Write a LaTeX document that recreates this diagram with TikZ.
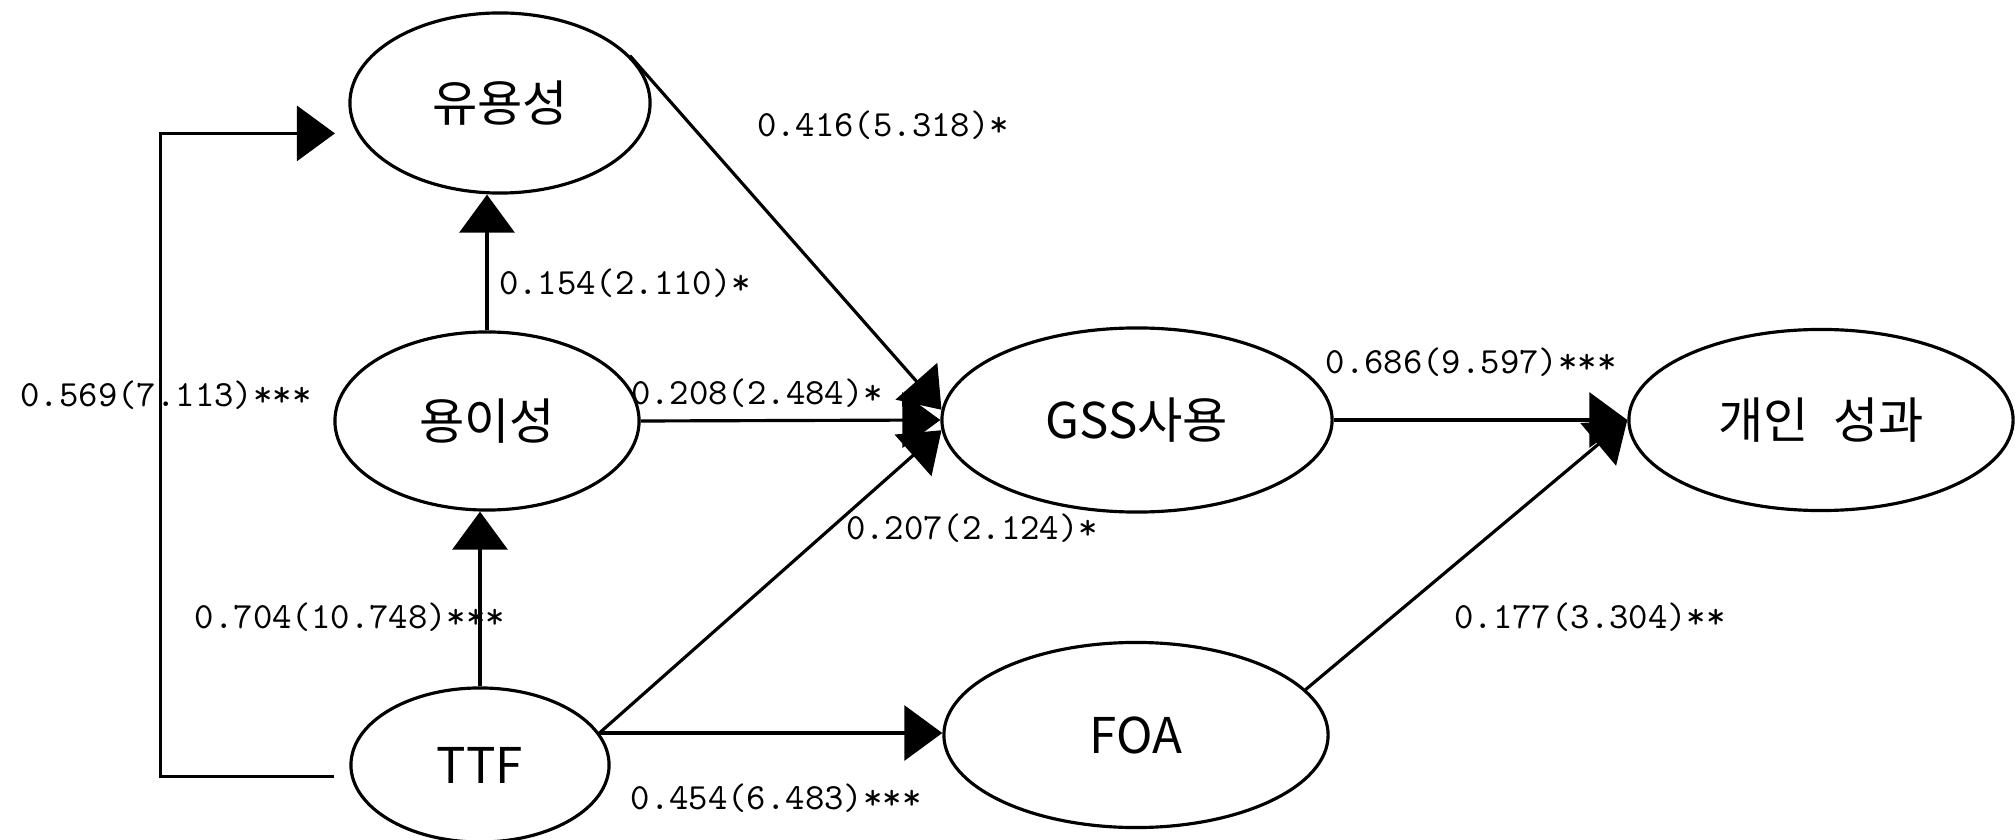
\documentclass[tikz,border=0pt]{standalone}
\usepackage{fontspec}
\usepackage{tikz}
\usetikzlibrary{arrows.meta,shapes.geometric}
\newfontfamily\krfont{Noto Sans CJK KR}

\begin{document}
\begin{tikzpicture}[x=0.01cm, y=-0.01cm,
  latent/.style={ellipse, draw, line width=0.9pt, inner sep=0pt,
                 font=\krfont\fontsize{14}{16}\selectfont},
  coef/.style={inner sep=0pt, font=\ttfamily\fontsize{10.5}{12}\selectfont},
  arr/.style={-{Triangle[length=0.38cm, width=0.55cm]}, line width=0.9pt}
]
\useasboundingbox (0,0) rectangle (2015,840);

% ── Constructs ─────────────
\node[latent, minimum width=3.0cm, minimum height=1.8cm] (usef) at (500,103) {유용성};
\node[latent, minimum width=3.04cm, minimum height=1.78cm] (ease) at (487,421) {용이성};
\node[latent, minimum width=2.58cm, minimum height=1.54cm] (ttf) at (480,765) {TTF};
\node[latent, minimum width=3.9cm, minimum height=1.84cm] (gss) at (1137,420) {GSS사용};
\node[latent, minimum width=3.84cm, minimum height=1.85cm] (foa) at (1136,735) {FOA};
\node[latent, minimum width=3.84cm, minimum height=1.81cm] (perf) at (1821,420) {개인\hspace{0.5em}성과};

% ── Paths ─────────────
\draw[arr, shorten <=0.17cm, shorten >=0.22cm] (ttf.185) -- ++(-190,0) |- (usef.192);
\draw[arr] (ease.north) -- (ease.north |- usef.south);
\draw[arr] (ttf.north) -- (ttf.north |- ease.south);
\draw[arr] (usef.20) -- (gss.177);
\draw[arr] (ease.east) -- (gss.west);
\draw[arr] (ttf.15) -- (gss.183);
\draw[arr] (ttf.15) -- (ttf.15 -| foa.west);
\draw[arr] (gss.east) -- (perf.west);
\draw[arr] (foa.15) -- (perf.west);

% ── Coefficients ─────────────
\node[coef] (cUG) at (883,125) {0.416(5.318)*};
\node[coef] (cEU) at (625,283) {0.154(2.110)*};
\node[coef] (cTU) at (166,395) {0.569(7.113)***};
\node[coef] (cEG) at (757,393) {0.208(2.484)*};
\node[coef] (cGP) at (1471,362) {0.686(9.597)***};
\node[coef] (cTG) at (972,528) {0.207(2.124)*};
\node[coef] (cTE) at (350,617) {0.704(10.748)***};
\node[coef] (cFP) at (1590,617) {0.177(3.304)**};
\node[coef] (cTF) at (776,798) {0.454(6.483)***};
\end{tikzpicture}
\end{document}
